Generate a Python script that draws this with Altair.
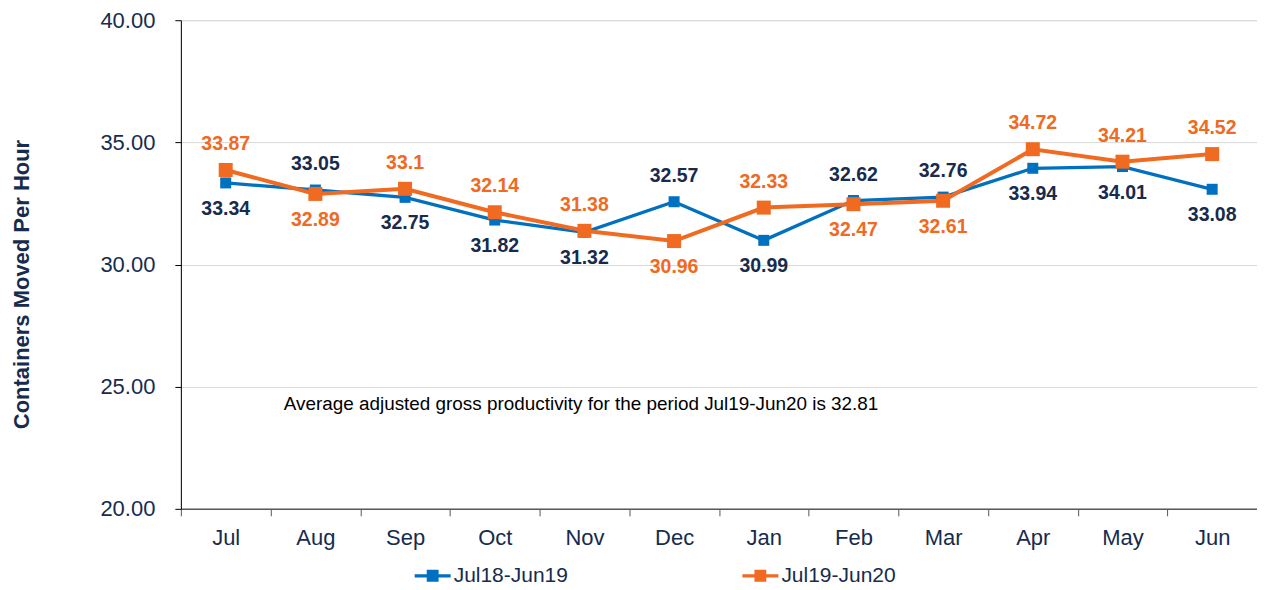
import altair as alt
import pandas as pd

months = ["Jul", "Aug", "Sep", "Oct", "Nov", "Dec", "Jan", "Feb", "Mar", "Apr", "May", "Jun"]
series_names = ["Jul18-Jun19", "Jul19-Jun20"]
s_2018 = [33.34, 33.05, 32.75, 31.82, 31.32, 32.57, 30.99, 32.62, 32.76, 33.94, 34.01, 33.08]
s_2019 = [33.87, 32.89, 33.10, 32.14, 31.38, 30.96, 32.33, 32.47, 32.61, 34.72, 34.21, 34.52]
y_ticks = [20, 25, 30, 35, 40]
note = "Average adjusted gross productivity for the period Jul19-Jun20 is 32.81"

BLUE = "#0070C0"
ORANGE = "#F06A22"
NAVY = "#172B4D"
FONT = "Liberation Sans"

rows = []
for i, m in enumerate(months):
    a, b = s_2018[i], s_2019[i]
    rows.append({"month": m, "series": series_names[0], "value": a, "above": a >= b,
                 "label": f"{a:g}"})
    rows.append({"month": m, "series": series_names[1], "value": b, "above": b > a,
                 "label": f"{b:g}"})
df = pd.DataFrame(rows)

x_enc = alt.X("month:N", sort=months, bandPosition=0.5,
              scale=alt.Scale(type="band", paddingInner=0, paddingOuter=0),
              axis=alt.Axis(title=None, tickBand="extent", tickSize=7, tickColor="#595959",
                            domainColor="#595959", domainWidth=1.5, labelFontSize=22,
                            labelColor=NAVY, labelFont=FONT, labelPadding=12, labelAngle=0))
y_enc = alt.Y("value:Q", scale=alt.Scale(domain=[20, 40], nice=False, zero=False),
              axis=alt.Axis(values=y_ticks, format=".2f", title="Containers Moved Per Hour",
                            titleFontSize=22, titleFont=FONT, titleFontWeight="bold",
                            titleColor=NAVY, titleX=-159, titleY=264, titleBaseline="middle",
                            titleAlign="center", titleAngle=-90,
                            tickSize=6, tickColor="#000000", domainColor="#000000",
                            labelFontSize=22, labelColor=NAVY, labelFont=FONT, labelPadding=20,
                            gridColor="#D9D9D9", gridWidth=1))

color_scale = alt.Scale(domain=series_names, range=[BLUE, ORANGE])
legend_path = ("M-1,-0.09 H1 V0.09 H-1 Z "
               "M-0.33,-0.33 H0.33 V0.33 H-0.33 Z")
legend = alt.Legend(title=None, orient="none", legendX=234, legendY=538,
                    direction="horizontal", symbolType=legend_path,
                    symbolSize=1296, symbolStrokeWidth=0, symbolOpacity=1,
                    labelFontSize=21, labelFont=FONT, labelColor=NAVY,
                    labelOffset=3, columnPadding=174)

base = alt.Chart(df)

lines = base.mark_line().encode(
    x=x_enc, y=y_enc,
    color=alt.Color("series:N", scale=color_scale, legend=legend),
    strokeWidth=alt.condition(alt.datum.series == series_names[0], alt.value(3.3), alt.value(4)),
)

point_layers = []
for name, sz in zip(series_names, [121, 196]):
    point_layers.append(
        base.transform_filter(alt.datum.series == name)
        .mark_point(shape="square", filled=True, opacity=1, size=sz)
        .encode(x=x_enc, y=y_enc,
                color=alt.Color("series:N", scale=color_scale, legend=legend))
    )

label_color = alt.condition(alt.datum.series == series_names[0], alt.value(NAVY), alt.value(ORANGE))

labels_above = base.transform_filter(alt.datum.above).mark_text(
    fontSize=19.5, fontWeight="bold", font=FONT, dy=-26, baseline="middle", align="center"
).encode(x=x_enc, y=y_enc, text="label:N", color=label_color)

labels_below = base.transform_filter(~alt.datum.above).mark_text(
    fontSize=19.5, fontWeight="bold", font=FONT, dy=26, baseline="middle", align="center"
).encode(x=x_enc, y=y_enc, text="label:N", color=label_color)

annotation = alt.Chart(pd.DataFrame({"t": [note]})).mark_text(
    fontSize=18.9, font=FONT, color="#000000", align="left", baseline="middle"
).encode(x=alt.value(103), y=alt.value(384), text="t:N")

chart = alt.layer(lines, *point_layers, labels_above, labels_below, annotation).properties(
    width=1077, height=489,
    autosize=alt.AutoSizeParams(type="none"),
    padding={"left": 173, "top": 12, "right": 0, "bottom": 80},
).configure_view(stroke="#C8C8C8", strokeWidth=1).configure(background="white")

chart.save("out.html", embed_options={"renderer": "svg", "actions": False})
